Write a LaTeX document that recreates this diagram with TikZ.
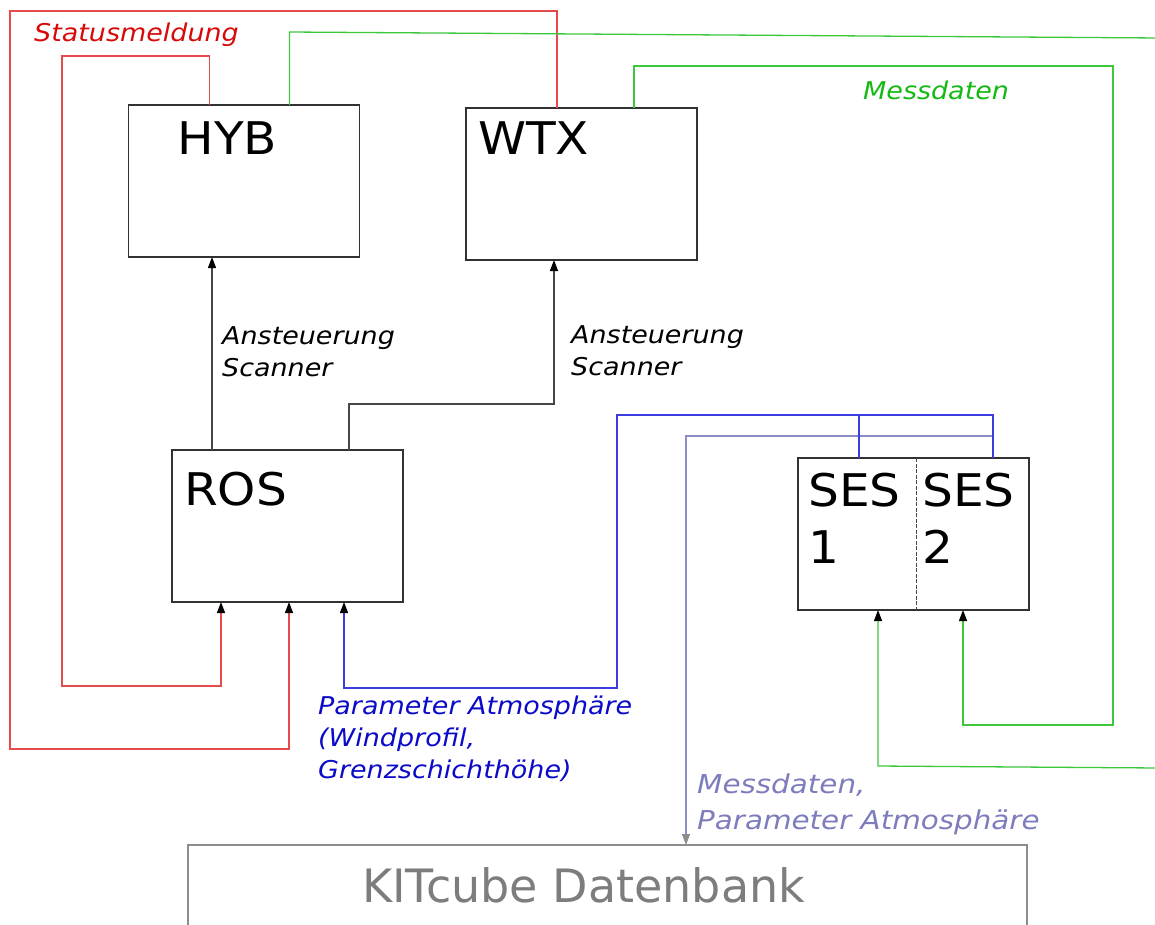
\documentclass[tikz,border=0pt]{standalone}
\usepackage{fontspec}
\setmainfont{DejaVu Sans}
\newfontfamily\lblfont{DejaVu Sans}[FakeStretch=1.1]
\newfontfamily\lavfont{DejaVu Sans}[FakeStretch=1.13]
\newfontfamily\boxfont{DejaVu Sans}[FakeStretch=1.08]
\usetikzlibrary{arrows.meta,calc}
\definecolor{redln}{RGB}{230,75,75}
\definecolor{redtx}{RGB}{215,10,10}
\definecolor{grnln}{RGB}{60,200,60}
\definecolor{grntx}{RGB}{20,185,20}
\definecolor{bluln}{RGB}{60,60,225}
\definecolor{blutx}{RGB}{10,10,200}
\definecolor{lavln}{RGB}{140,140,200}
\definecolor{lavtx}{RGB}{125,125,190}
\definecolor{boxln}{RGB}{50,50,50}
\definecolor{kitln}{RGB}{140,140,140}
\definecolor{kittx}{RGB}{125,125,125}
\definecolor{blkln}{RGB}{70,70,70}
\begin{document}
\begin{tikzpicture}[x=1pt,y=-1pt,
  sysbox/.style={draw=boxln, line width=1.4pt, minimum width=231pt, minimum height=152pt, inner sep=0pt, outer sep=0pt},
  boxtxt/.style={font=\boxfont\fontsize{45}{57}\selectfont, inner sep=0pt, align=left},
  lbl/.style={font=\lblfont\fontsize{24.5}{32}\selectfont\itshape, inner sep=0pt, align=left},
  conn/.style={line width=1.3pt},
  tip/.style={-{Triangle[length=11pt,width=8pt,color=black]}},
  graytip/.style={-{Triangle[length=11pt,width=8pt,color=kitln]}}
]
\path[use as bounding box, clip] (0,0) rectangle (1155,924);

% boxes
\node[sysbox] (hyb) at (244,181) {};
\node[sysbox] (wtx) at (581.5,184) {};
\node[sysbox] (ros) at (287.5,526) {};
\node[sysbox] (ses) at (913.5,534) {};
\node[draw=kitln, line width=1.4pt, minimum width=839pt, minimum height=140pt, inner sep=0pt, outer sep=0pt] (kit) at (607.5,915) {};
\coordinate (sesdivtop) at ($(ses.north west)+(118,0)$);
\coordinate (sesdivbot) at ($(ses.south west)+(118,0)$);
\draw[draw=blkln, line width=0.9pt, dash pattern=on 4pt off 1.5pt] (sesdivtop) -- (sesdivbot);

% box texts
\node[boxtxt, anchor=base west] (hybt) at ($(hyb.north west)+(49,49)$) {HYB};
\node[boxtxt, anchor=base west] (wtxt) at ($(wtx.north west)+(12,46)$) {WTX};
\node[boxtxt, anchor=base west] (rost) at ($(ros.north west)+(12,55)$) {ROS};
\node[boxtxt, anchor=north west] (ses1t) at ($(ses.north west)+(10,15)$) {SES\\1};
\node[boxtxt, anchor=north west] (ses2t) at ($(ses.north west)+(124,15)$) {SES\\2};
\node[font=\fontsize{46}{56}\selectfont, text=kittx, inner sep=0pt, anchor=base west] (kitt) at (362,902) {KITcube Datenbank};

% attachment coordinates
\coordinate (hybR) at ($(hyb.north west)+(81,0)$);
\coordinate (hybG) at ($(hyb.north west)+(161,0)$);
\coordinate (wtxR) at ($(wtx.north west)+(91,0)$);
\coordinate (wtxG) at ($(wtx.north west)+(168,0)$);
\coordinate (hybB) at ($(hyb.south west)+(84,0)$);
\coordinate (wtxB) at ($(wtx.south west)+(88,0)$);
\coordinate (rosT1) at ($(ros.north west)+(40,0)$);
\coordinate (rosT2) at ($(ros.north west)+(177,0)$);
\coordinate (rosB1) at ($(ros.south west)+(49,0)$);
\coordinate (rosB2) at ($(ros.south west)+(117,0)$);
\coordinate (rosB3) at ($(ros.south west)+(172,0)$);
\coordinate (sesT1) at ($(ses.north west)+(61,0)$);
\coordinate (sesT2) at ($(ses.north west)+(195,0)$);
\coordinate (sesB1) at ($(ses.south west)+(80,0)$);
\coordinate (sesB2) at ($(ses.south west)+(165,0)$);
\coordinate (kitT) at ($(kit.north west)+(498,0)$);
\coordinate (gOutTop) at (1160,38);
\coordinate (gInBot) at (1160,768);

% red (Statusmeldung)
\draw[conn, draw=redln, tip] (hybR) -- ++(0,-49) -| (62,686) -| (rosB1);
\draw[conn, draw=redln, tip] (wtxR) -- ++(0,-97) -| (10,749) -| (rosB2);

% green (Messdaten)
\draw[conn, draw=grnln] (hybG) -- ++(0,-73) -- (gOutTop);
\draw[conn, draw=grnln, tip] (gInBot) -- (878,766) -- (sesB1);
\draw[conn, draw=grnln, tip] (wtxG) -- ++(0,-42) -| (1113,725) -| (sesB2);

% black (Ansteuerung Scanner)
\draw[conn, draw=blkln, tip] (rosT1) -- (rosT1 |- hybB);
\draw[conn, draw=blkln, tip] (rosT2) -- ++(0,-46) -| (wtxB);

% lavender (to KITcube)
\draw[conn, draw=lavln, graytip] (sesT2) ++(0,-22) -| (kitT);

% blue (Parameter Atmosphaere)
\draw[conn, draw=bluln, tip] (sesT2) -- ++(0,-43) -| (617,688) -| (rosB3);
\draw[conn, draw=bluln] (sesT1) -- (sesT1 |- 0,415);

% labels
\node[lbl, text=redtx, anchor=base west] (lstat) at (34,41) {Statusmeldung};
\node[lbl, text=grntx, anchor=base west] (lmess) at (863,99) {Messdaten};
\node[lbl, text=black, anchor=north west] (lans1) at (222,326) {Ansteuerung\\Scanner};
\node[lbl, text=black, anchor=north west] (lans2) at (571,325) {Ansteuerung\\Scanner};
\node[lbl, text=blutx, anchor=north west] (lpar) at (318,696) {Parameter Atmosphäre\\(Windprofil,\\Grenzschichthöhe)};
\node[lbl, text=lavtx, anchor=north west, font=\lavfont\fontsize{26}{36}\selectfont\itshape] (lmp) at (697,774) {Messdaten,\\Parameter Atmosphäre};
\end{tikzpicture}
\end{document}
